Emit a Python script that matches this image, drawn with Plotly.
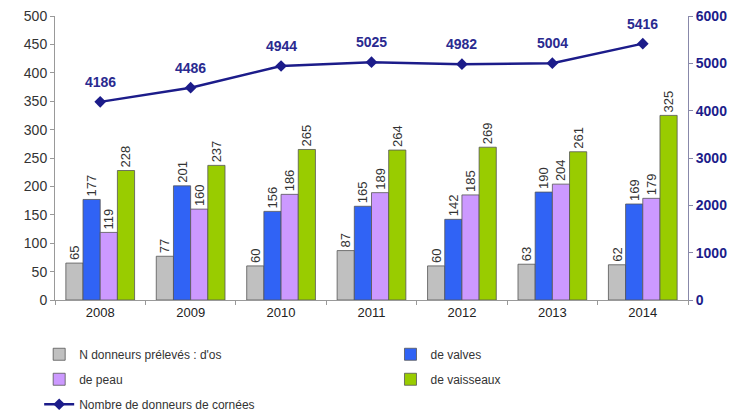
import plotly.graph_objects as go

years = ["2008", "2009", "2010", "2011", "2012", "2013", "2014"]
os_vals = [65, 77, 60, 87, 60, 63, 62]
valves = [177, 201, 156, 165, 142, 190, 169]
peau = [119, 160, 186, 189, 185, 204, 179]
vaisseaux = [228, 237, 265, 264, 269, 261, 325]
cornees = [4186, 4486, 4944, 5025, 4982, 5004, 5416]

names = ["N donneurs prélevés : d'os", "de valves", "de peau", "de vaisseaux"]
colors = ["#c0c0c0", "#3063f5", "#cc99ff", "#99cc00"]
series = [os_vals, valves, peau, vaisseaux]
legend_ids = ["legend", "legend2", "legend", "legend2"]

fig = go.Figure()
for i, (n, c, s, lg) in enumerate(zip(names, colors, series, legend_ids)):
    fig.add_trace(go.Bar(
        x=years, y=s, name=n, legend=lg, legendgroup=f"g{i}",
        marker=dict(color=c, line=dict(color="#555555", width=0.8)),
        text=[str(v) for v in s], textposition="outside", textangle=-90,
        constraintext="none",
        textfont=dict(family="Liberation Sans, Arial", size=13, color="#333333"),
        cliponaxis=False,
    ))

fig.add_trace(go.Scatter(
    x=years, y=cornees, name="Nombre de donneurs de cornées", yaxis="y2",
    legend="legend", legendgroup="g4",
    mode="lines+markers",
    line=dict(color="#1c1c8a", width=2.5),
    marker=dict(symbol="diamond", size=9, color="#1c1c8a"),
    cliponaxis=False,
))

# labels above the line points (category index positions on the x axis)
for idx, v in enumerate(cornees):
    fig.add_annotation(x=idx, y=v, xref="x", yref="y2", text=f"<b>{v}</b>",
                       showarrow=False, yshift=20,
                       font=dict(family="Liberation Sans, Arial", size=14, color="#2a2a90"))

legend_common = dict(orientation="v", yanchor="top", traceorder="grouped",
                     tracegroupgap=6, font=dict(size=12, color="#333333"),
                     bgcolor="rgba(0,0,0,0)")

fig.update_layout(
    width=739, height=419,
    margin=dict(l=55, r=51, t=16, b=119, autoexpand=False),
    paper_bgcolor="white", plot_bgcolor="white",
    barmode="group", bargap=0.24, bargroupgap=0,
    font=dict(family="Liberation Sans, Arial", size=13, color="#333333"),
    xaxis=dict(type="category", range=[-0.5, len(years) - 0.5],
               showline=True, linecolor="#999999", linewidth=1,
               ticks="outside", tickson="boundaries", ticklen=4, tickcolor="#999999",
               tickfont=dict(size=13, color="#222222"), showgrid=False),
    yaxis=dict(range=[0, 500], dtick=50, showline=True, linecolor="#999999",
               ticks="outside", ticklen=4, tickcolor="#999999", showgrid=False,
               zeroline=False, tickfont=dict(size=14, color="#333333")),
    yaxis2=dict(range=[0, 6000], dtick=1000, overlaying="y", side="right",
                showline=True, linecolor="#8888aa", ticks="outside", ticklen=4,
                tickcolor="#8888aa", showgrid=False, zeroline=False,
                tickfont=dict(size=14, color="#1c1c8a", family="Liberation Sans, Arial"),
                tickprefix="<b>", ticksuffix="</b>"),
    legend=dict(x=-0.025, xanchor="left", y=-0.14, **legend_common),
    legend2=dict(x=0.53, xanchor="left", y=-0.14, **legend_common),
    showlegend=True,
)

fig.write_html("out.html")
